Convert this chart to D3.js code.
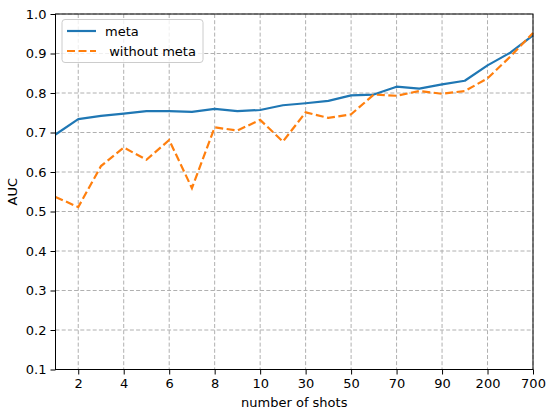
<!DOCTYPE html>
<html><head><meta charset="utf-8">
<script src="https://cdn.jsdelivr.net/npm/d3@7"></script>
<style>body{margin:0;background:#fff;} text{font-family:"DejaVu Sans",sans-serif;}</style>
</head><body><svg id="c" width="550" height="416"></svg>
<script>
const shots = ["1","2","3","4","5","6","7","8","9","10","20","30","40","50","60","70","80","90","100","200","500","700"];
const meta = [0.695,0.734,0.742,0.748,0.754,0.754,0.752,0.760,0.754,0.757,0.769,0.774,0.780,0.794,0.796,0.816,0.811,0.822,0.831,0.870,0.902,0.946];
const withoutMeta = [0.537,0.511,0.615,0.662,0.631,0.681,0.559,0.713,0.705,0.732,0.677,0.751,0.737,0.746,0.796,0.793,0.805,0.798,0.805,0.837,0.892,0.952];
const yTicks = [0.1,0.2,0.3,0.4,0.5,0.6,0.7,0.8,0.9,1.0];
const xTickLabels = ["2","4","6","8","10","30","50","70","90","200","700"];

const svg = d3.select("#c");
const L=55.5, R=533, T=14, B=369.5;
const FS = 13;
const x = d3.scaleLinear().domain([0, shots.length-1]).range([L,R]);
const y = d3.scaleLinear().domain([0.1,1.0]).range([B,T]);
const xTickIdx = xTickLabels.map(l => shots.indexOf(l));

// grid
const g = svg.append("g");
g.selectAll(".gy").data(yTicks).join("line")
  .attr("x1",L).attr("x2",R).attr("y1",d=>y(d)).attr("y2",d=>y(d))
  .attr("stroke","#b0b0b0").attr("stroke-width",1).attr("stroke-dasharray","4,2.2");
g.selectAll(".gx").data(xTickIdx).join("line")
  .attr("x1",d=>x(d)).attr("x2",d=>x(d)).attr("y1",T).attr("y2",B)
  .attr("stroke","#b0b0b0").attr("stroke-width",1).attr("stroke-dasharray","4,2.2");

// axes
const yAxis = d3.axisLeft(y).tickValues(yTicks).tickFormat(d3.format(".1f")).tickSize(5).tickPadding(4);
const xAxis = d3.axisBottom(x).tickValues(xTickIdx).tickFormat(i=>shots[i]).tickSize(5).tickPadding(4);
const ya = svg.append("g").attr("transform",`translate(${L},0)`).call(yAxis);
const xa = svg.append("g").attr("transform",`translate(0,${B})`).call(xAxis);
[ya,xa].forEach(a=>{
  a.select(".domain").remove();
  a.selectAll("line").attr("stroke","#000").attr("stroke-width",1);
  a.selectAll("text").attr("font-size",FS).attr("fill","#000").attr("font-family","DejaVu Sans");
});

// lines
const line = d3.line().x((d,i)=>x(i)).y(d=>y(d));
svg.append("path").datum(meta).attr("d",line).attr("fill","none")
  .attr("stroke","#1f77b4").attr("stroke-width",2.2).attr("stroke-linejoin","round");
svg.append("path").datum(withoutMeta).attr("d",line).attr("fill","none")
  .attr("stroke","#ff7f0e").attr("stroke-width",2.2).attr("stroke-dasharray","8,3.5");

// frame
svg.append("rect").attr("x",L).attr("y",T).attr("width",R-L).attr("height",B-T)
  .attr("fill","none").attr("stroke","#000").attr("stroke-width",1);

// labels
svg.append("text").attr("x",(L+R)/2).attr("y",407).attr("text-anchor","middle")
  .attr("font-size",FS).text("number of shots");
svg.append("text").attr("transform",`translate(17,${(T+B)/2}) rotate(-90)`).attr("text-anchor","middle")
  .attr("font-size",FS).text("AUC");

// legend
const lg = svg.append("g");
lg.append("rect").attr("x",62).attr("y",19.5).attr("width",141).attr("height",43).attr("rx",3)
  .attr("fill","#fff").attr("fill-opacity",0.8).attr("stroke","#ccc").attr("stroke-width",1);
const items = [{name:"meta",c:"#1f77b4",dash:null,ty:31},{name:" without meta",c:"#ff7f0e",dash:"8,3.5",ty:51}];
items.forEach(it=>{
  lg.append("line").attr("x1",67).attr("x2",96).attr("y1",it.ty).attr("y2",it.ty)
    .attr("stroke",it.c).attr("stroke-width",2.2).attr("stroke-dasharray",it.dash);
  lg.append("text").attr("x",105).attr("y",it.ty+4.5).attr("font-size",FS)
    .attr("xml:space","preserve").style("white-space","pre").text(it.name);
});
</script></body></html>
